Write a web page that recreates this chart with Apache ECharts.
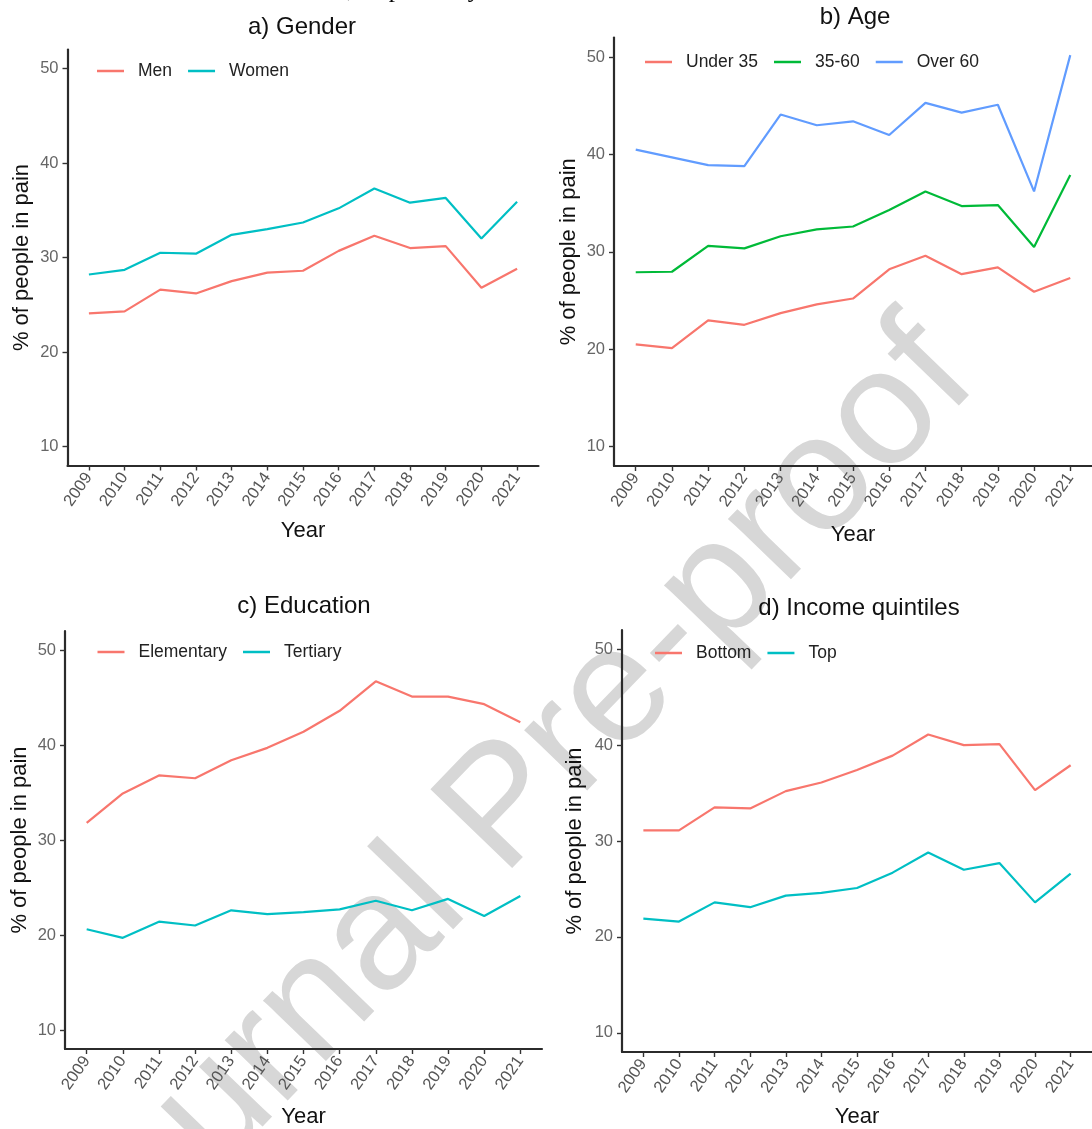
<!DOCTYPE html>
<html>
<head>
<meta charset="utf-8">
<script src="https://cdn.jsdelivr.net/npm/echarts@6/dist/echarts.min.js"></script>
<style>
html,body{margin:0;padding:0;background:#fff;}
#chart{width:1092px;height:1129px;}
</style>
</head>
<body>
<div id="chart"></div>
<script>
const years = [2009,2010,2011,2012,2013,2014,2015,2016,2017,2018,2019,2020,2021];
const yTicks = [10,20,30,40,50];

const menVals   = [24.1,24.3,26.6,26.2,27.5,28.4,28.6,30.7,32.3,31.0,31.2,26.8,28.8];
const womenVals = [28.2,28.7,30.5,30.4,32.4,33.0,33.7,35.2,37.3,35.8,36.3,32.0,35.9];

const under35Vals = [20.5,20.1,22.95,22.5,23.7,24.6,25.2,28.2,29.6,27.7,28.4,25.9,27.3];
const mid35to60Vals = [27.9,27.95,30.6,30.35,31.6,32.3,32.6,34.3,36.2,34.7,34.8,30.5,37.9];
const over60Vals = [40.5,39.7,38.9,38.8,44.1,43.0,43.4,42.0,45.3,44.3,45.1,36.2,50.2];

const elementaryVals = [31.8,34.9,36.8,36.5,38.4,39.7,41.4,43.6,46.7,45.1,45.1,44.3,42.4];
const tertiaryVals   = [20.6,19.7,21.4,21.0,22.6,22.2,22.4,22.7,23.6,22.6,23.8,22.0,24.1];

const bottomVals = [31.1,31.1,33.5,33.4,35.2,36.1,37.4,38.9,41.1,40.0,40.1,35.3,37.9];
const topVals    = [21.9,21.6,23.6,23.1,24.3,24.6,25.1,26.7,28.8,27.0,27.7,23.6,26.6];

const panelTitles = ['a) Gender','b) Age','c) Education','d) Income quintiles'];

const RED='#F8766D', CYAN='#00BFC4', GREEN='#00BA38', BLUE='#619CFF';
const FONT = 'Liberation Sans, Arial, sans-serif';

const grids = [
  {left:67.5, right:553.5, top:49.5, bottom:663.5},
  {left:614, right:-5, top:37.6, bottom:663},
  {left:65, right:550, top:631, bottom:79},
  {left:622, right:-5, top:630, bottom:77}
];
const xNameGaps = [54, 58, 57, 54];
const yNameGaps = [35, 34, 34, 36];

function xAxis(gi){
  return {
    type:'value', gridIndex:gi, min:2008.4, max:2021.6,
    name:'Year', nameLocation:'middle', nameGap:xNameGaps[gi],
    nameTextStyle:{color:'#111', fontSize:22, fontFamily:FONT},
    axisLine:{show:true, lineStyle:{color:'#2b2b2b', width:2.2}},
    axisTick:{show:true, length:5, customValues:years, lineStyle:{color:'#333', width:1.4}},
    axisLabel:{customValues:years, rotate:55, color:'#555', fontSize:16.5, fontFamily:FONT, margin:9,
      formatter:v=>String(Math.round(v))},
    splitLine:{show:false}
  };
}
function yAxis(gi){
  return {
    type:'value', gridIndex:gi, min:8, max:52,
    name:'% of people in pain', nameLocation:'middle', nameGap:yNameGaps[gi],
    nameTextStyle:{color:'#111', fontSize:22, fontFamily:FONT},
    axisLine:{show:true, lineStyle:{color:'#2b2b2b', width:2.2}},
    axisTick:{show:true, length:5, customValues:yTicks, lineStyle:{color:'#333', width:1.4}},
    axisLabel:{customValues:yTicks, color:'#666', fontSize:16.5, fontFamily:FONT, margin:9},
    splitLine:{show:false}
  };
}
function line(name, vals, color, gi){
  return {
    type:'line', name:name, xAxisIndex:gi, yAxisIndex:gi,
    data: years.map((y,i)=>[y, vals[i]]),
    showSymbol:false, symbol:'none', smooth:false,
    lineStyle:{color:color, width:2.2}, itemStyle:{color:color}, z:3
  };
}
function legend(names, left, top){
  return {
    data:names, left:left, top:top, orient:'horizontal',
    icon:'rect', itemWidth:27, itemHeight:2.5, itemGap:16,
    textStyle:{color:'#222', fontSize:17.5, fontFamily:FONT, padding:[0,0,0,9]}
  };
}
function title(text, left, top){
  return {text:text, left:left, top:top, textAlign:'center',
    textStyle:{color:'#111', fontSize:24, fontWeight:'normal', fontFamily:FONT}};
}

const option = {
  backgroundColor:'#fff',
  animation:false,
  title:[
    title(panelTitles[0], 297, 10),
    title(panelTitles[1], 850, 0),
    title(panelTitles[2], 299, 589),
    title(panelTitles[3], 854, 591)
  ],
  legend:[
    legend(['Men','Women'], 92, 57),
    legend(['Under 35','35-60','Over 60'], 640, 48),
    legend(['Elementary','Tertiary'], 92.5, 638),
    legend(['Bottom','Top'], 650, 639)
  ],
  grid:grids,
  xAxis:[xAxis(0),xAxis(1),xAxis(2),xAxis(3)],
  yAxis:[yAxis(0),yAxis(1),yAxis(2),yAxis(3)],
  series:[
    line('Men', menVals, RED, 0),
    line('Women', womenVals, CYAN, 0),
    line('Under 35', under35Vals, RED, 1),
    line('35-60', mid35to60Vals, GREEN, 1),
    line('Over 60', over60Vals, BLUE, 1),
    line('Elementary', elementaryVals, RED, 2),
    line('Tertiary', tertiaryVals, CYAN, 2),
    line('Bottom', bottomVals, RED, 3),
    line('Top', topVals, CYAN, 3)
  ],
  graphic:[
    {type:'text', x:347, y:-9.5, z:1,
      style:{text:', respectively.', font:'25px "Liberation Serif", "Times New Roman", serif', fill:'#000',
        textAlign:'left', textVerticalAlign:'middle'}},
    {type:'text', x:505, y:810, rotation:46*Math.PI/180, z:-1,
      style:{text:'Journal Pre-proof', font:'165px "Liberation Sans", Arial, sans-serif',
        fill:'rgb(215,215,215)', textAlign:'center', textVerticalAlign:'middle'}}
  ]
};

const chart = echarts.init(document.getElementById('chart'), null, {renderer:'canvas'});
chart.setOption(option);
</script>
</body>
</html>
